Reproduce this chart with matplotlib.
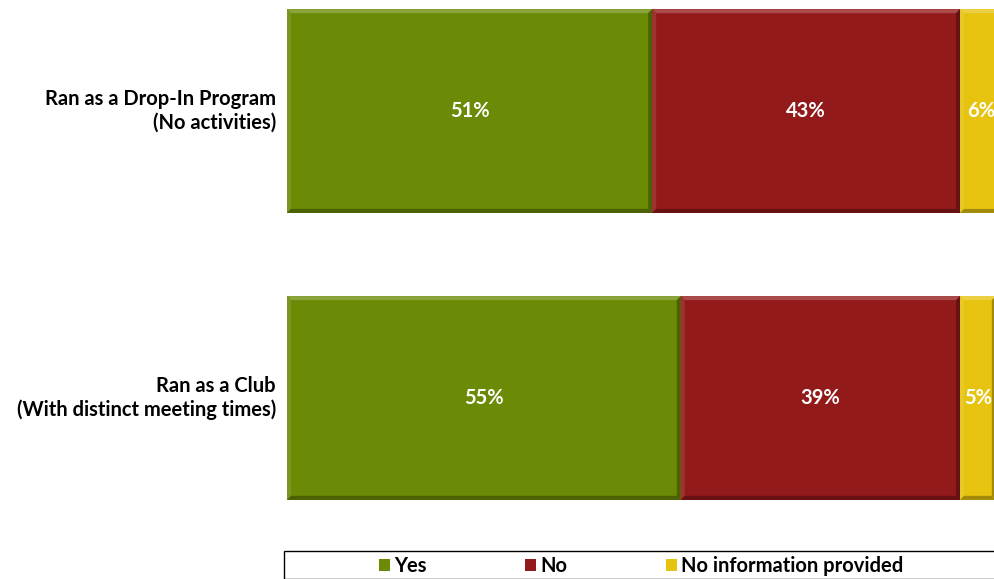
import matplotlib
matplotlib.use("Agg")
import matplotlib.pyplot as plt
from matplotlib.patches import Polygon, Rectangle
from matplotlib.colors import to_rgb
import numpy as np

plt.rcParams['font.family'] = ['Lato', 'DejaVu Sans']

categories = ["Ran as a Drop-In Program\n(No activities)",
              "Ran as a Club\n(With distinct meeting times)"]
series_names = ["Yes", "No", "No information provided"]
yes_vals = [51, 55]
no_vals = [43, 39]
noinfo_vals = [6, 5]
colors = ["#6B8A05", "#931A1A", "#E6C30F"]

W, H = 995, 579
fig = plt.figure(figsize=(W / 100, H / 100), dpi=100)
fig.patch.set_facecolor("white")

# axes: left edge at 287px, ~7.16px per percent, extends past the right edge
PX_PER_PCT = 7.16
ax = fig.add_axes([287 / W, 1 - 540 / H, 100 * PX_PER_PCT / W, 540 / H])
ax.set_xlim(0, 100)
ax.set_ylim(1.495, -0.387)
ax.axis("off")

bar_h = 0.71
ypos = np.arange(len(categories))
FS = 14.5


def blend(c, target, t):
    c = np.array(to_rgb(c))
    return tuple(c + (np.array(target) - c) * t)


def bevel(ax, x0, x1, yc, h, color):
    # pixel-sized bevel bands, converted to data units
    bx = 4 / PX_PER_PCT
    by = 4 / 287
    top, bot = yc - h / 2, yc + h / 2
    light = blend(color, (1, 1, 1), 0.22)
    lighter = blend(color, (1, 1, 1), 0.10)
    dark = blend(color, (0, 0, 0), 0.30)
    darker = blend(color, (0, 0, 0), 0.30)
    polys = [
        ([(x0, top), (x1, top), (x1 - bx, top + by), (x0 + bx, top + by)], light),
        ([(x0, top), (x0 + bx, top + by), (x0 + bx, bot - by), (x0, bot)], lighter),
        ([(x0, bot), (x0 + bx, bot - by), (x1 - bx, bot - by), (x1, bot)], dark),
        ([(x1, top), (x1, bot), (x1 - bx, bot - by), (x1 - bx, top + by)], darker),
    ]
    for pts, col in polys:
        ax.add_patch(Polygon(pts, closed=True, facecolor=col, edgecolor="none", zorder=3))


left = np.zeros(len(categories))
handles = []
for name, vals, col in zip(series_names, [yes_vals, no_vals, noinfo_vals], colors):
    vals = np.array(vals, dtype=float)
    bars = ax.barh(ypos, vals, left=left, height=bar_h, color=col,
                   edgecolor="none", zorder=2, label=name)
    handles.append(bars)
    for y, l, v in zip(ypos, left, vals):
        bevel(ax, l, l + v, y, bar_h, col)
        ax.text(l + v / 2, y, f"{int(v)}%", ha="center", va="center",
                color="white", fontsize=FS, fontweight="bold", zorder=4)
    left = left + vals

for y, lab in zip(ypos, categories):
    ax.text(-1.55, y, lab, ha="right", va="center", fontsize=FS,
            fontweight="bold", color="black", linespacing=1.2, clip_on=False)

# legend box along the bottom
fig.add_artist(Rectangle((284 / W, 0), 1.0, 28 / H, transform=fig.transFigure,
                         facecolor="white", edgecolor="black", linewidth=1.0))
leg = fig.legend(handles=handles, labels=series_names, loc="center left",
                 bbox_to_anchor=(379 / W, 13 / H), ncol=3, frameon=False,
                 handlelength=0.55, handleheight=0.55, handletextpad=0.2,
                 columnspacing=4.9, borderaxespad=0, borderpad=0,
                 prop={"weight": "bold", "size": FS})

fig.savefig("out.png", dpi=100, facecolor="white")
